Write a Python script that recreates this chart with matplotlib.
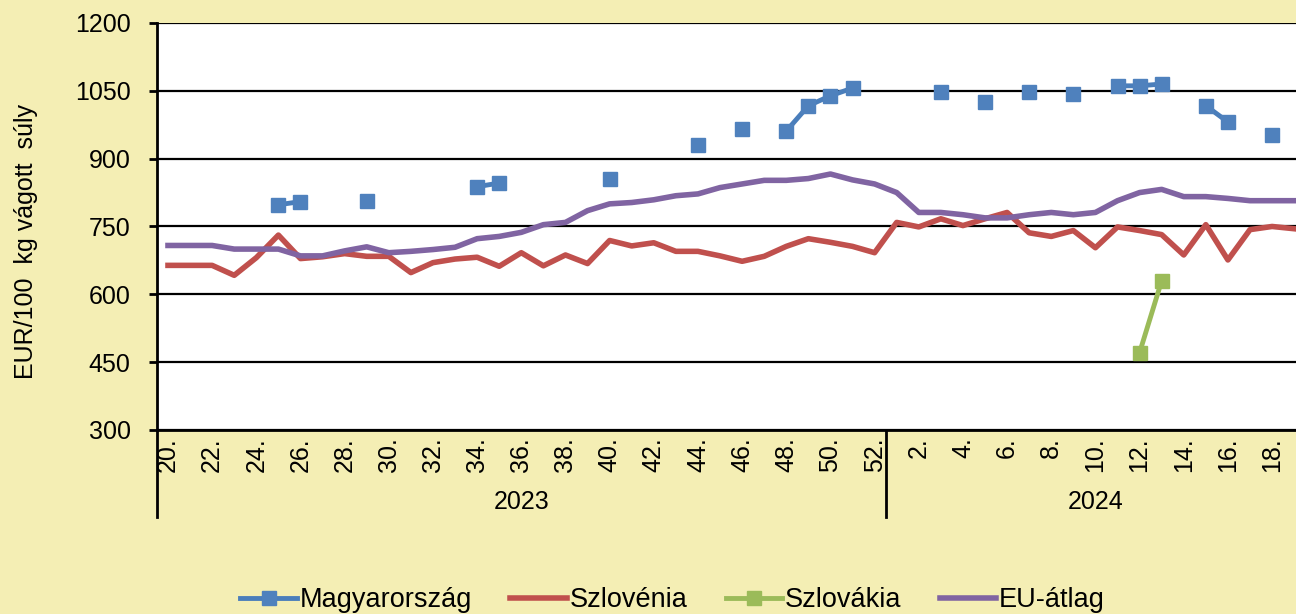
import numpy as np
import matplotlib.pyplot as plt
from matplotlib.lines import Line2D

plt.rcParams['font.family'] = ['Liberation Sans', 'DejaVu Sans']

# hetek: 2023. 20-52., 2024. 1-19.
het_2023 = list(range(20, 53))
het_2024 = list(range(1, 20))
evek = ['2023', '2024']

magyarorszag = [None, None, None, None, None, 798, 805, None, None, 807,
                None, None, None, None, 838, 846, None, None, None, None,
                855, None, None, None, 930, None, 966, None, 961, 1017,
                1039, 1056, None, None, None, 1048, None, 1025, None, 1048,
                None, 1043, None, 1061, 1061, 1065, None, 1017, 981, None,
                952, None]
szlovenia = [664, 664, 664, 642, 681, 731, 679, 683, 690, 684,
             684, 648, 670, 678, 682, 662, 692, 663, 687, 668,
             719, 707, 714, 695, 695, 685, 673, 684, 706, 723,
             715, 706, 692, 759, 749, 767, 752, 767, 781, 736,
             728, 741, 703, 749, 741, 732, 687, 754, 676, 743,
             750, 745]
szlovakia = [None] * 44 + [471, 630] + [None] * 6
eu_atlag = [708, 708, 708, 700, 700, 700, 685, 685, 696, 705,
            692, 695, 699, 704, 723, 728, 737, 754, 759, 785,
            800, 803, 809, 818, 822, 836, 844, 852, 852, 856,
            866, 853, 844, 825, 781, 781, 776, 769, 769, 776,
            781, 776, 781, 807, 825, 832, 816, 816, 812, 807,
            807, 807]

hetek = het_2023 + het_2024
x = np.arange(len(hetek))
n23 = len(het_2023)

hatter = '#F4EEB4'
fig = plt.figure(figsize=(12.96, 6.14), dpi=100, facecolor=hatter)
# a rajzterület jobb széle kilóg a képből
ax = fig.add_axes([0.1211, 0.2997, 0.886, 0.6629])
ax.set_facecolor('white')

def arr(v):
    return np.array([np.nan if e is None else e for e in v], dtype=float)

ax.plot(x, arr(magyarorszag), color='#4A7EBB', lw=3.5, marker='s', ms=10.5,
        mfc='#4F81BD', mec='#4F81BD', label='Magyarország', zorder=4)
ax.plot(x, arr(szlovenia), color='#C0504D', lw=4, label='Szlovénia', zorder=3)
ax.plot(x, arr(szlovakia), color='#9BBB59', lw=3.5, marker='s', ms=10.5,
        label='Szlovákia', zorder=4)
ax.plot(x, arr(eu_atlag), color='#8064A2', lw=4, label='EU-átlag', zorder=3)

ax.set_ylim(300, 1200)
ax.set_yticks(np.arange(300, 1201, 150))
ax.set_xlim(-0.5, len(hetek) - 0.5)
ax.grid(axis='y', color='black', lw=1.6, zorder=1)
ax.set_axisbelow(True)

for s in ['top', 'right']:
    ax.spines[s].set_visible(False)
ax.spines['left'].set_linewidth(2)
ax.spines['bottom'].set_linewidth(2)
ax.tick_params(axis='y', length=6, width=2, pad=13, labelsize=18)
ax.set_ylabel('EUR/100  kg vágott  súly', fontsize=18)
ax.yaxis.set_label_coords(-0.104, 0.464)

# hét címkék minden második héten
pos = [i for i in range(n23) if (hetek[i] % 2 == 0)] + \
      [n23 + i for i in range(len(het_2024)) if het_2024[i] % 2 == 0]
ax.set_xticks(pos)
ax.set_xticklabels([f'{hetek[p]}.' for p in pos], rotation=90, fontsize=18)
ax.tick_params(axis='x', length=0, pad=5)

# évek elválasztása
ylo = -0.214
for xv in [-0.5, n23 - 0.5]:
    ax.add_line(Line2D([xv, xv], [0, ylo], transform=ax.get_xaxis_transform(),
                       color='black', lw=2, clip_on=False))
ax.text((n23 - 1) / 2, -0.176, evek[0], transform=ax.get_xaxis_transform(),
        ha='center', va='center', fontsize=18)
ax.text(n23 + (len(het_2024) - 1) / 2, -0.176, evek[1],
        transform=ax.get_xaxis_transform(), ha='center', va='center', fontsize=18)

fig.legend(loc='center', bbox_to_anchor=(0.519, 0.022), ncol=4, frameon=False,
           fontsize=19.5, handlelength=2.1, handletextpad=0.1, columnspacing=1.4,
           numpoints=1)

fig.savefig('out.png', dpi=100, facecolor=hatter)
